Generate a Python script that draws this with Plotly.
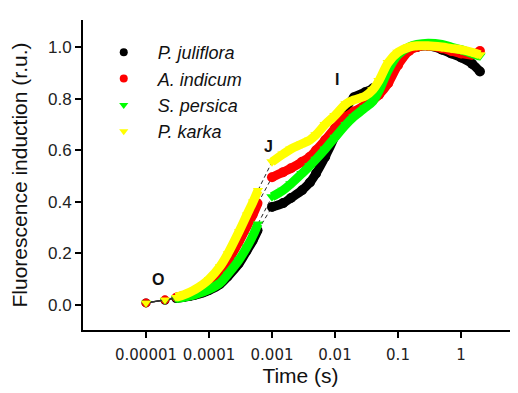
import math
import plotly.graph_objects as go

# ---- data ----
species = ["P. juliflora", "A. indicum", "S. persica", "P. karka"]
colors = ["#000000", "#ff0000", "#00ff00", "#ffff00"]
symbols = ["circle", "circle", "triangle-down", "triangle-down"]

# early (O-J) segment times, seconds
t_low = [1e-5, 2e-5, 3e-5, 4e-5, 5e-5, 6e-5, 8e-5, 1e-4, 1.5e-4, 2e-4, 3e-4, 4e-4, 5e-4, 6e-4]
juliflora_low = [0.008, 0.018, 0.025, 0.030, 0.034, 0.038, 0.047, 0.056, 0.080, 0.110, 0.160, 0.210, 0.250, 0.290]
indicum_low   = [0.008, 0.020, 0.030, 0.037, 0.044, 0.050, 0.065, 0.080, 0.125, 0.170, 0.245, 0.305, 0.350, 0.395]
persica_low   = [0.008, 0.018, 0.025, 0.030, 0.035, 0.040, 0.050, 0.060, 0.085, 0.120, 0.175, 0.225, 0.270, 0.315]
karka_low     = [0.008, 0.020, 0.030, 0.040, 0.050, 0.060, 0.080, 0.100, 0.150, 0.200, 0.285, 0.350, 0.400, 0.445]

# later (J-I-P) segment times, seconds
t_up = [1e-3, 1.5e-3, 2e-3, 3e-3, 4e-3, 5e-3, 7e-3, 1e-2, 1.5e-2, 2e-2, 3e-2, 4e-2, 5e-2,
        7e-2, 0.1, 0.15, 0.2, 0.3, 0.5, 0.7, 1.0, 1.5, 2.0]
juliflora_up = [0.380, 0.395, 0.415, 0.445, 0.475, 0.510, 0.575, 0.655, 0.760, 0.805, 0.825, 0.840, 0.855,
                0.890, 0.950, 0.990, 1.000, 1.005, 0.990, 0.975, 0.960, 0.935, 0.905]
indicum_up   = [0.495, 0.515, 0.530, 0.555, 0.575, 0.600, 0.640, 0.685, 0.730, 0.750, 0.775, 0.795, 0.815,
                0.860, 0.930, 0.985, 1.000, 1.005, 0.995, 0.985, 0.975, 0.970, 0.985]
persica_up   = [0.420, 0.445, 0.470, 0.510, 0.540, 0.565, 0.605, 0.650, 0.700, 0.730, 0.765, 0.790, 0.830,
                0.910, 0.970, 1.000, 1.010, 1.015, 1.010, 1.000, 0.990, 0.975, 0.965]
karka_up     = [0.555, 0.585, 0.605, 0.625, 0.640, 0.660, 0.700, 0.735, 0.780, 0.795, 0.810, 0.835, 0.870,
                0.940, 0.980, 1.000, 1.005, 1.005, 1.000, 0.995, 0.990, 0.980, 0.970]

low_values = [juliflora_low, indicum_low, persica_low, karka_low]
up_values = [juliflora_up, indicum_up, persica_up, karka_up]

tick_vals = [1e-5, 1e-4, 1e-3, 1e-2, 1e-1, 1]
tick_text = ["0.00001", "0.0001", "0.001", "0.01", "0.1", "1"]
y_ticks = [0.0, 0.2, 0.4, 0.6, 0.8, 1.0]

phase_labels = ["O", "J", "I", "P"]
phase_x = [1.55e-5, 8.7e-4, 1.07e-2, 0.162]
phase_y = [0.10, 0.616, 0.876, 1.116]

fig = go.Figure()
W = 9
for name, col, sym, lo, up in zip(species, colors, symbols, low_values, up_values):
    # thin connector of the sparse first points
    fig.add_trace(go.Scatter(x=t_low[:4], y=lo[:4], mode="lines",
                             line=dict(color="#333333", width=1.2), showlegend=False, hoverinfo="skip"))
    # dashed connector over the recording gap
    fig.add_trace(go.Scatter(x=[t_low[-1], t_up[0]], y=[lo[-1], up[0]], mode="lines",
                             line=dict(color="#222222", width=1, dash="4px,3px"), showlegend=False, hoverinfo="skip"))
    fig.add_trace(go.Scatter(x=t_low[2:], y=lo[2:], mode="lines",
                             line=dict(color=col, width=W, shape="spline"), showlegend=False))
    fig.add_trace(go.Scatter(x=t_low, y=lo, mode="markers",
                             marker=dict(color=col, symbol=sym, size=9, line=dict(width=0)), showlegend=False))
    fig.add_trace(go.Scatter(x=t_up, y=up, mode="lines+markers",
                             line=dict(color=col, width=W, shape="spline"),
                             marker=dict(color=col, symbol=sym, size=10, line=dict(width=0)), showlegend=False))

# legend entries
for name, col, sym in zip(species, colors, symbols):
    fig.add_trace(go.Scatter(x=[None], y=[None], mode="markers", name="\u00a0" + name,
                             marker=dict(color=col, symbol=sym, size=8, line=dict(width=0))))

for lab, px, py in zip(phase_labels, phase_x, phase_y):
    fig.add_annotation(x=math.log10(px), y=py, xref="x", yref="y", text="<b>%s</b>" % lab, showarrow=False,
                       font=dict(family="Liberation Sans, Arial", size=16, color="#111111"))

# the page body has an 8px default margin, so the figure is 8px smaller than the window
fig.update_layout(
    width=510, height=385,
    margin=dict(l=75, r=0, t=12, b=63),
    paper_bgcolor="white", plot_bgcolor="white",
    font=dict(family="Liberation Sans, Arial", color="#111111"),
    legend=dict(x=0.027, y=0.955, xanchor="left", yanchor="top",
                font=dict(family="Liberation Sans, Arial", size=18, color="#111111", style="italic"),
                bgcolor="rgba(0,0,0,0)", tracegroupgap=0, itemwidth=48),
    xaxis=dict(type="log", range=[-6.0, 0.905], tickvals=tick_vals, ticktext=tick_text, automargin=False,
               showgrid=False, zeroline=False, showline=True, linecolor="black", linewidth=2,
               ticks="outside", ticklen=6, tickwidth=2, tickcolor="black",
               tickfont=dict(family="DejaVu Sans", size=15, color="#222222"),
               ticklabelstandoff=4,
               title=dict(text="Time (s)", font=dict(size=21, family="Liberation Sans, Arial"), standoff=4)),
    yaxis=dict(range=[-0.097, 1.105], tickvals=y_ticks, tickformat=".1f", automargin=False,
               showgrid=False, zeroline=False, showline=True, linecolor="black", linewidth=2,
               ticks="outside", ticklen=6, tickwidth=2, tickcolor="black",
               tickfont=dict(family="Liberation Sans, Arial", size=17, color="#222222"),
               title=dict(text="Fluorescence induction (r.u.)", font=dict(size=21, family="Liberation Sans, Arial"),
                          standoff=15)),
)

fig.write_html("out.html")
